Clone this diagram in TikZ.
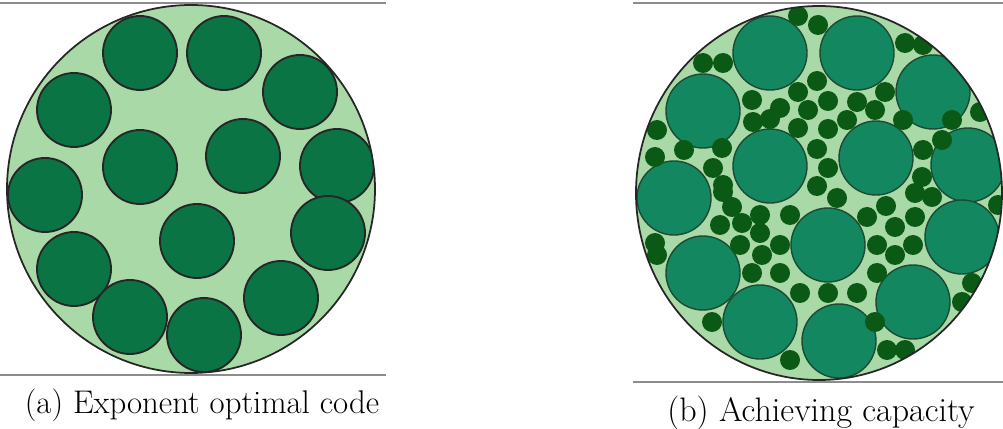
\documentclass[tikz,border=0pt]{standalone}
\definecolor{bg}{HTML}{A9D9A7}
\definecolor{bigA}{HTML}{0B7445}
\definecolor{bigB}{HTML}{13875F}
\definecolor{bigBline}{HTML}{1C4A32}
\definecolor{smallc}{HTML}{0A5A16}
\definecolor{rulec}{HTML}{8C8C8C}
\tikzset{
  rulel/.style={draw=rulec,line width=1.2pt},
  outerline/.style={draw=black!85,line width=1.5pt},
  bigleft/.style={draw=black!85,line width=1.6pt,fill=bigA},
  bigright/.style={draw=bigBline,line width=1.2pt,fill=bigB},
  smallone/.style={fill=smallc},
  caption/.style={font=\fontsize{28}{33}\selectfont,inner sep=0pt}
}
\begin{document}
\begin{tikzpicture}[x=0.03cm,y=-0.03cm]
\useasboundingbox (0,0) rectangle (1003,429);
% rules
\coordinate (la1) at (0,3); \coordinate (la2) at (386,3);
\coordinate (lb1) at (0,375); \coordinate (lb2) at (386,375);
\coordinate (ra1) at (633,3); \coordinate (ra2) at (1003,3);
\coordinate (rb1) at (633,382); \coordinate (rb2) at (1003,382);
\draw[rulel] (la1) -- (la2);
\draw[rulel] (lb1) -- (lb2);
\draw[rulel] (ra1) -- (ra2);
\draw[rulel] (rb1) -- (rb2);
% left panel
\fill[bg] (191,189) circle[radius=184];
\begin{scope}
\clip (191,189) circle[radius=184];
\foreach \p in {(140,53),(224,53),(300,92),(74,110),(140,167),(243,156),(337,166),(45,195),(197,241),(328,233),(74,269),(130,317),(204,335),(281,298)}
  \draw[bigleft] \p circle[radius=37];
\end{scope}
\draw[outerline] (191,189) circle[radius=184];
% right panel
\fill[bg] (819,193) ellipse[x radius=183,y radius=187];
\begin{scope}
\clip (819,193) ellipse[x radius=183,y radius=187];
\foreach \p in {(770,53),(857,53),(933,92),(703,111),(770,166),(876,158),(968,165),(674,198),(828,245),(962,237),(703,273),(760,322),(839,341),(913,302)}
  \draw[bigright] \p circle[radius=37];
\foreach \p in {(798,16),(818,25),(703,63),(723,63),(817,81),(798,92),(752,100),(780,108),(808,110),(753,122),(770,119),(798,128),(657,130),(684,150),(722,148),(655,157),(713,168),(817,149),(723,185),(817,186),
  (828,101),(828,129),(828,168),
  (905,43),(923,45),(885,92),(857,102),(875,110),(847,120),(903,120),(952,120),(980,112),(942,140),(923,150),(922,177),
  (655,243),(657,255),(723,192),(732,207),(760,215),(790,215),(720,225),(742,223),(760,233),(740,245),(762,255),(780,245),(752,273),(780,273),(800,293),(712,322),(790,360),
  (837,198),(886,206),(867,217),(915,217),(895,227),(877,245),(913,245),(895,255),(877,273),(972,283),(828,293),(857,293),(962,302),(875,322),(887,350),(905,350),(915,193),(932,197),(998,205)}
  \fill[smallone] \p circle[radius=10];
\end{scope}
\draw[outerline] (819,193) ellipse[x radius=183,y radius=187];
% captions
\node[caption] (capa) at (202,405) {(a) Exponent optimal code};
\node[caption,font=\fontsize{29}{34}\selectfont] (capb) at (821,413) {(b) Achieving capacity};
\end{tikzpicture}
\end{document}
